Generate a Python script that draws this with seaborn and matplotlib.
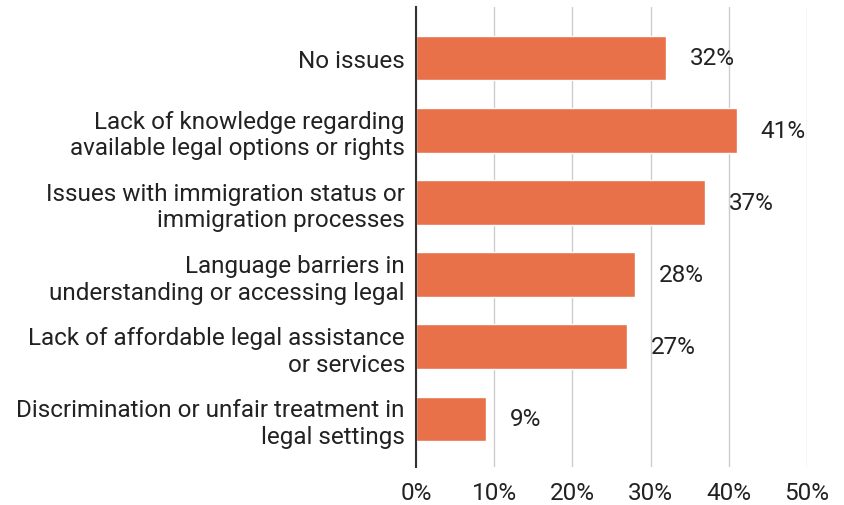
import matplotlib
matplotlib.use("Agg")
import matplotlib.pyplot as plt
import seaborn as sns
import pandas as pd
from matplotlib.ticker import FuncFormatter
from matplotlib.transforms import offset_copy

categories = [
    "No issues",
    "Lack of knowledge regarding\navailable legal options or rights",
    "Issues with immigration status or\nimmigration processes",
    "Language barriers in\nunderstanding or accessing legal",
    "Lack of affordable legal assistance\nor services",
    "Discrimination or unfair treatment in\nlegal settings",
]
shares = [0.32, 0.41, 0.37, 0.28, 0.27, 0.09]
x_ticks = [0.0, 0.1, 0.2, 0.3, 0.4, 0.5]

sns.set_theme(style="white")
plt.rcParams["font.family"] = ["Roboto", "DejaVu Sans"]

df = pd.DataFrame({"category": categories, "share": shares})

fig = plt.figure(figsize=(8.45, 5.06), dpi=100)
ax = fig.add_axes([0.4923, 0.0751, 0.4627, 0.9091])

sns.barplot(data=df, x="share", y="category", orient="h", color="#E8714A",
            saturation=1, width=0.62, ax=ax, zorder=3)

ax.set_xlim(0, 0.5)
ax.set_ylim(5.665, -0.706)
ax.set_xticks(x_ticks)
ax.xaxis.set_major_formatter(FuncFormatter(lambda v, _: f"{v*100:.0f}%"))
ax.set_xlabel("")
ax.set_ylabel("")

ax.grid(axis="x", color="#cccccc", linewidth=1.0, zorder=0)
ax.grid(axis="y", visible=False)
for side in ["top", "right", "bottom"]:
    ax.spines[side].set_visible(False)
ax.spines["left"].set_color("#333333")
ax.spines["left"].set_linewidth(1.5)
ax.spines["left"].set_zorder(4)

ax.tick_params(axis="both", length=0, labelsize=17.5, labelcolor="#222222")
ax.tick_params(axis="x", pad=10)
ax.tick_params(axis="y", pad=8)
for lab in ax.get_yticklabels():
    lab.set_linespacing(1.2)

label_tf = offset_copy(ax.transData, fig=fig, x=24, y=0, units="dots")
for i, v in enumerate(shares):
    ax.text(v, i, f"{v*100:.0f}%", transform=label_tf, ha="left", va="center",
            fontsize=17.5, color="#222222")

fig.savefig("out.png", dpi=100)
